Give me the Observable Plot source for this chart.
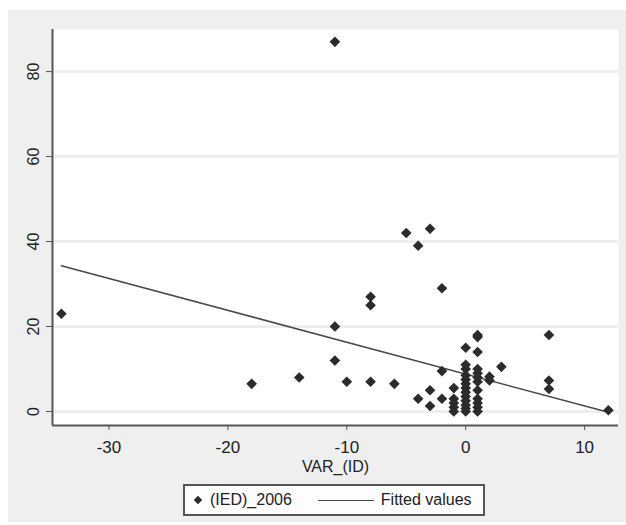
<!DOCTYPE html>
<html>
<head>
<meta charset="utf-8">
<script src="https://cdn.jsdelivr.net/npm/d3@7"></script>
<script src="https://cdn.jsdelivr.net/npm/@observablehq/plot@0.6"></script>
<style>
  html, body { margin: 0; padding: 0; background: #ffffff; }
  body { width: 626px; height: 525px; position: relative; overflow: hidden;
         font-family: "Liberation Sans", Arial, sans-serif; color: #222; }
  #panel { position: absolute; left: 8px; top: 10px; width: 618px; height: 512px; background: #efefef; }
  #chart { position: absolute; left: 0; top: 0; }
  #legend { position: absolute; left: 175px; top: 474px; width: 298px; height: 28px;
            border: 2px solid #555; background: #fdfdfd; box-sizing: content-box;
            display: flex; align-items: center; font-size: 16px; color: #222; }
  #legend .dia { width: 6px; height: 6px; background: #2b2b2b; transform: rotate(45deg); margin-left: 10px; margin-right: 9px; }
  #legend .ln { width: 56px; height: 0; border-top: 1.5px solid #4a4a4a; margin-left: 26px; margin-right: 7px; }
</style>
</head>
<body>
<div id="panel">
  <div id="chart"></div>
  <div id="legend"><span class="dia"></span><span id="lg1"></span><span class="ln"></span><span id="lg2"></span></div>
</div>
<script>
// Scatter points: VAR_(ID) vs (IED)_2006
const varID = [-34, -11, -18, -14, -11, -11, -10, -8, -8, -8, -6, -5, -4, -3,
  -4, -3, -3, -2, -2, -2,
  -1, -1, -1, -1, -1,
  0, 0, 0, 0, 0, 0, 0, 0, 0, 0, 0, 0, 0,
  1, 1, 1, 1, 1, 1, 1, 1, 1, 1, 1, 1,
  2, 2, 3, 7, 7, 7, 12];
const ied2006 = [23, 87, 6.5, 8, 20, 12, 7, 27, 25, 7, 6.5, 42, 39, 43,
  3, 5, 1.3, 29, 9.5, 3,
  5.5, 3, 2, 1, 0,
  15, 11, 10, 8.5, 7.5, 6.5, 5.5, 4.5, 3.5, 2.5, 1.5, 0.7, 0,
  18, 17.5, 14, 10, 9, 8, 7, 5, 3, 2, 1, 0,
  8.2, 7.3, 10.5, 18, 7.3, 5.3, 0.3];
// Fitted values (regression line endpoints)
const fitX = [-34, 12];
const fitY = [34.3, -0.2];
// Axis ticks
const xTicks = [-30, -20, -10, 0, 10];
const yTicks = [0, 20, 40, 60, 80];
const xDomain = [-34.75, 12.85];
const yDomain = [-3.3, 89.9];
const xLabel = "VAR_(ID)";
const legendLabels = ["(IED)_2006", "Fitted values"];

const points = varID.map((x, i) => ({x, y: ied2006[i]}));
const fit = fitX.map((x, i) => ({x, y: fitY[i]}));

document.getElementById("lg1").textContent = legendLabels[0];
document.getElementById("lg2").textContent = legendLabels[1];

const fmt = d => String(d);

const plot = Plot.plot({
  width: 618,
  height: 460,
  marginLeft: 44,
  marginRight: 8,
  marginTop: 19,
  marginBottom: 45,
  style: {background: "transparent", fontFamily: "Liberation Sans, Arial, sans-serif", fontSize: "16px", color: "#222", overflow: "visible"},
  x: {domain: xDomain},
  y: {domain: yDomain},
  marks: [
    Plot.frame({fill: "white", stroke: "none"}),
    Plot.gridY(yTicks, {stroke: "#eeeeee", strokeOpacity: 1, strokeWidth: 3}),
    Plot.ruleX([xDomain[0]], {stroke: "#555", strokeWidth: 2}),
    Plot.ruleY([yDomain[0]], {stroke: "#555", strokeWidth: 2}),
    Plot.axisY(yTicks, {tickSize: 6, tickRotate: -90, tickPadding: 8, stroke: "#555", fill: "#222", fontSize: 16, label: null, tickFormat: fmt}),
    Plot.axisX(xTicks, {tickSize: 5, tickPadding: 10, stroke: "#555", fill: "#222", fontSize: 17, label: null, tickFormat: fmt}),
    Plot.text([xLabel], {frameAnchor: "bottom", dy: 35, fill: "#222", fontSize: 16, lineAnchor: "top", text: d => d}),
    Plot.line(fit, {x: "x", y: "y", stroke: "#4a4a4a", strokeWidth: 1.5}),
    Plot.dot(points, {x: "x", y: "y", symbol: "diamond2", r: 4.8, fill: "#2b2b2b", stroke: "none"})
  ]
});
document.getElementById("chart").appendChild(plot);
</script>
</body>
</html>
